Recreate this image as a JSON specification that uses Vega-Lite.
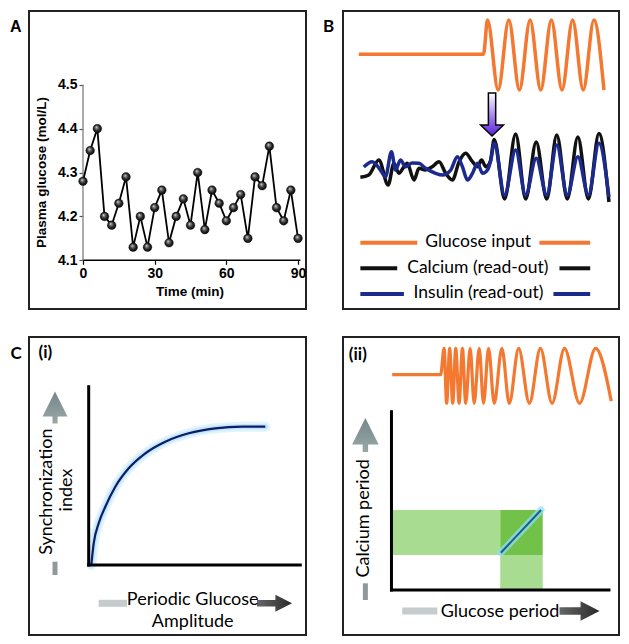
{
"$schema": "https://vega.github.io/schema/vega-lite/v6.json",
"padding": {"left": 8, "top": 10, "right": 0, "bottom": 0},
"background": "white",
"config": {"view": {"stroke": "#222", "strokeWidth": 2}},
"bounds": "flush",
"columns": 2,
"spacing": {"row": 28, "column": 37},
"resolve": {"scale": {"x": "independent", "y": "independent", "color": "independent"}},
"datasets": {
"glucose": [{"t":0,"g":4.28},{"t":3,"g":4.35},{"t":6,"g":4.40},{"t":9,"g":4.20},{"t":12,"g":4.18},{"t":15,"g":4.23},{"t":18,"g":4.29},{"t":21,"g":4.13},{"t":24,"g":4.20},{"t":27,"g":4.13},{"t":30,"g":4.22},{"t":33,"g":4.26},{"t":36,"g":4.14},{"t":39,"g":4.20},{"t":42,"g":4.24},{"t":45,"g":4.18},{"t":48,"g":4.30},{"t":51,"g":4.17},{"t":54,"g":4.26},{"t":57,"g":4.23},{"t":60,"g":4.19},{"t":63,"g":4.22},{"t":66,"g":4.25},{"t":69,"g":4.15},{"t":72,"g":4.29},{"t":75,"g":4.27},{"t":78,"g":4.36},{"t":81,"g":4.22},{"t":84,"g":4.19},{"t":87,"g":4.26},{"t":90,"g":4.15}],
"a_xaxis": [{"t":0,"t2":91,"g":4.1}],
"a_yaxis": [{"t":0,"g":4.1,"g2":4.5}],
"a_label": [{"t":-28.17,"g":4.632,"label":"A"}],
"a_ytitle": [{"t":-17.16,"g":4.3,"label":"Plasma glucose (mol/L)"}],
"b_glucose": [{"x":5.71,"y":85.47},{"x":50.91,"y":85.47},{"x":52.36,"y":96.98},{"x":56.22,"y":73.49},{"x":60.07,"y":96.98},{"x":63.93,"y":73.49},{"x":67.78,"y":96.98},{"x":71.64,"y":73.49},{"x":75.49,"y":96.98},{"x":79.35,"y":73.49},{"x":83.2,"y":96.98},{"x":87.05,"y":73.49},{"x":90.91,"y":96.98},{"x":94.55,"y":73.49}],
"b_calcium": [{"x":6.29,"y":44.19},{"x":9.35,"y":44.97},{"x":12.98,"y":50.0},{"x":16.36,"y":41.61},{"x":18.44,"y":48.89},{"x":20.25,"y":45.54},{"x":21.82,"y":47.32},{"x":23.27,"y":48.89},{"x":25.71,"y":43.29},{"x":27.53,"y":47.21},{"x":29.82,"y":46.64},{"x":32.36,"y":47.75},{"x":34.8,"y":49.43},{"x":37.2,"y":45.54},{"x":39.64,"y":43.29},{"x":42.07,"y":49.43},{"x":44.47,"y":52.25},{"x":46.91,"y":49.43},{"x":48.73,"y":47.75},{"x":50.18,"y":50.0},{"x":51.75,"y":47.75},{"x":53.35,"y":49.43},{"x":54.8,"y":56.88},{"x":58.55,"y":36.91},{"x":62.55,"y":58.72},{"x":66.18,"y":36.91},{"x":70.0,"y":56.04},{"x":73.82,"y":36.91},{"x":77.45,"y":58.39},{"x":81.27,"y":36.91},{"x":85.09,"y":57.72},{"x":88.91,"y":36.91},{"x":92.73,"y":58.89},{"x":96.36,"y":35.91}],
"b_insulin": [{"x":7.53,"y":47.65},{"x":10.55,"y":49.43},{"x":13.56,"y":46.64},{"x":15.38,"y":44.4},{"x":17.56,"y":52.79},{"x":19.02,"y":46.64},{"x":20.84,"y":50.0},{"x":22.65,"y":47.75},{"x":25.09,"y":48.99},{"x":27.53,"y":48.89},{"x":29.93,"y":47.21},{"x":33.56,"y":45.54},{"x":36.0,"y":44.97},{"x":39.02,"y":46.64},{"x":41.45,"y":51.11},{"x":43.27,"y":47.75},{"x":45.09,"y":43.29},{"x":46.91,"y":45.54},{"x":48.73,"y":48.89},{"x":50.55,"y":45.54},{"x":52.36,"y":46.64},{"x":53.56,"y":50.0},{"x":54.8,"y":55.6},{"x":58.55,"y":38.26},{"x":62.55,"y":53.36},{"x":66.18,"y":38.26},{"x":70.0,"y":50.57},{"x":73.82,"y":38.26},{"x":77.45,"y":55.03},{"x":81.27,"y":38.26},{"x":85.09,"y":51.11},{"x":88.91,"y":38.26},{"x":92.73,"y":55.6},{"x":96.36,"y":37.58}],
"b_arrow": [{"x":54.0,"y":65.27}],
"b_legend": [{"x":6.29,"x2":26.91,"y":22.25,"s":"Glucose input"},{"x":71.16,"x2":89.56,"y":22.25,"s":"Glucose input"},{"x":6.29,"x2":19.64,"y":13.66,"s":"Calcium (read-out)"},{"x":78.44,"x2":89.56,"y":13.66,"s":"Calcium (read-out)"},{"x":6.29,"x2":22.07,"y":5.03,"s":"Insulin (read-out)"},{"x":76.25,"x2":89.56,"y":5.03,"s":"Insulin (read-out)"}],
"b_legend_text": [{"x":48.98,"y":22.58,"label":"Glucose input"},{"x":48.84,"y":13.9,"label":"Calcium (read-out)"},{"x":49.09,"y":5.3,"label":"Insulin (read-out)"}],
"b_label": [{"x":-5.2,"y":94.5,"label":"B"}],
"c1_vaxis": [{"x":21.55,"y":23.49,"y2":83.32}],
"c1_haxis": [{"x":21.55,"x2":97.94,"y":23.49}],
"c1_curve": [{"x":22.49,"y":23.49},{"x":23.36,"y":30.77},{"x":25.16,"y":37.48},{"x":27.55,"y":43.05},{"x":31.16,"y":49.77},{"x":35.99,"y":55.94},{"x":41.99,"y":60.97},{"x":49.21,"y":64.87},{"x":57.65,"y":67.69},{"x":67.26,"y":69.36},{"x":76.9,"y":69.9},{"x":85.31,"y":69.9}],
"c1_bold": [{"x":5.88,"y":94.53,"label":"(i)"},{"x":-4.69,"y":94.4,"label":"C"}],
"c1_vtext": [{"x":6.5,"y":48.09,"label":"Synchronization"},{"x":13.72,"y":48.66,"label":"index"}],
"c1_htext": [{"x":59.1,"y":11.74,"label":"Periodic Glucose"},{"x":59.1,"y":4.46,"label":"Amplitude"}],
"c1_uparrow": [{"x":9.39,"y":76.34}],
"c1_rarrow": [{"x":88.63,"y":10.64}],
"c1_smallbar": [{"x":9.39,"y":20.13,"y2":24.6}],
"c1_lightbar": [{"x":25.16,"x2":35.38,"y":10.64}],
"c2_glucose": [{"x":17.82,"y":87.35},{"x":35.38,"y":87.35},{"x":36.62,"y":96.21},{"x":37.56,"y":77.75},{"x":38.65,"y":96.21},{"x":39.75,"y":77.75},{"x":40.84,"y":96.21},{"x":42.07,"y":77.75},{"x":43.27,"y":96.21},{"x":44.47,"y":77.75},{"x":46.07,"y":96.21},{"x":47.53,"y":77.75},{"x":49.35,"y":96.21},{"x":50.91,"y":77.75},{"x":52.73,"y":96.21},{"x":54.8,"y":77.75},{"x":57.56,"y":96.21},{"x":60.25,"y":77.75},{"x":63.64,"y":96.21},{"x":67.53,"y":77.75},{"x":71.53,"y":96.21},{"x":75.75,"y":77.75},{"x":80.25,"y":96.21},{"x":85.71,"y":77.75},{"x":91.53,"y":96.21},{"x":97.2,"y":78.5}],
"c2_rects": [{"x":17.56,"x2":56.98,"y":26.85,"y2":41.95,"shade":"light"},{"x":56.98,"x2":72.36,"y":26.85,"y2":41.95,"shade":"dark"},{"x":56.98,"x2":72.36,"y":15.1,"y2":26.85,"shade":"light"}],
"c2_vaxis": [{"x":17.56,"y":15.1,"y2":74.93}],
"c2_haxis": [{"x":17.56,"x2":96.36,"y":15.1}],
"c2_diag": [{"x":57.2,"y":27.62},{"x":71.75,"y":41.95}],
"c2_bold": [{"x":5.38,"y":93.96,"label":"(ii)"}],
"c2_vtext": [{"x":7.53,"y":39.16,"label":"Calcium period"}],
"c2_htext": [{"x":56.91,"y":7.82,"label":"Glucose period"}],
"c2_uparrow": [{"x":8.11,"y":67.11}],
"c2_rarrow": [{"x":85.71,"y":8.05}],
"c2_smallbar": [{"x":8.11,"y":11.74,"y2":17.35}],
"c2_lightbar": [{"x":21.45,"x2":34.18,"y":8.05}]
},
"concat": [
{
"width": 277, "height": 298,
"encoding": {
"x": {"field": "t", "type": "quantitative", "scale": {"domain": [-22.6, 93.34], "nice": false, "zero": false},
 "axis": {"values": [0, 30, 60, 90], "domain": false, "grid": false, "offset": -48.7, "tickSize": 4, "tickWidth": 1.2, "tickColor": "#000", "labelFont": "Liberation Sans", "labelFontSize": 14, "labelFontWeight": "bold", "labelColor": "#000", "labelPadding": 2, "labelFlush": false, "title": "Time (min)", "titleFont": "Liberation Sans", "titleFontSize": 13.5, "titleFontWeight": "bold", "titleColor": "#000", "titlePadding": 4, "titleX": 160.5}},
"y": {"field": "g", "type": "quantitative", "scale": {"domain": [3.9891, 4.6679], "nice": false, "zero": false},
 "axis": {"values": [4.1, 4.2, 4.3, 4.4, 4.5], "format": ".1f", "domain": false, "grid": false, "offset": -54, "tickSize": 4, "tickWidth": 1.2, "tickColor": "#555", "labelFont": "Liberation Sans", "labelFontSize": 14, "labelFontWeight": "bold", "labelColor": "#000", "labelPadding": 2, "labelFlush": false, "title": null}}
},
"layer": [
{"data": {"name": "a_xaxis"}, "mark": {"type": "rule", "color": "#000", "strokeWidth": 1.6}, "encoding": {"x2": {"field": "t2"}}},
{"data": {"name": "a_yaxis"}, "mark": {"type": "rule", "color": "#888", "strokeWidth": 1.4}, "encoding": {"y2": {"field": "g2"}}},
{"data": {"name": "glucose"}, "mark": {"type": "line", "color": "#000", "strokeWidth": 1.8}},
{"data": {"name": "glucose"}, "mark": {"type": "circle", "size": 75, "opacity": 1, "fill": {"gradient": "radial", "x1": 0.38, "y1": 0.32, "r1": 0, "x2": 0.5, "y2": 0.5, "r2": 0.55, "stops": [{"offset": 0, "color": "#ffffff"}, {"offset": 0.2, "color": "#8c8c8c"}, {"offset": 0.6, "color": "#2a2a2a"}, {"offset": 1, "color": "#000000"}]}, "stroke": "#000", "strokeWidth": 0.4}},
{"data": {"name": "a_ytitle"}, "mark": {"type": "text", "font": "Liberation Sans", "fontWeight": "bold", "fontSize": 13.5, "color": "#000", "angle": 270}, "encoding": {"text": {"field": "label"}}},
{"data": {"name": "a_label"}, "mark": {"type": "text", "font": "Liberation Sans", "fontWeight": "bold", "fontSize": 16, "color": "#000"}, "encoding": {"text": {"field": "label"}}}
]
},
{
"width": 276, "height": 298,
"encoding": {
"x": {"field": "x", "type": "quantitative", "scale": {"domain": [0, 100], "nice": false, "zero": false}, "axis": null},
"y": {"field": "y", "type": "quantitative", "scale": {"domain": [0, 100], "nice": false, "zero": false}, "axis": null}
},
"layer": [
{"data": {"name": "b_glucose"}, "mark": {"type": "line", "color": "#f4782f", "strokeWidth": 3.5, "interpolate": "monotone"}},
{"data": {"name": "b_calcium"}, "mark": {"type": "line", "color": "#111111", "strokeWidth": 3.5, "interpolate": "monotone"}},
{"data": {"name": "b_insulin"}, "mark": {"type": "line", "color": "#1b2a8c", "strokeWidth": 3.5, "interpolate": "monotone"}},
{"data": {"name": "b_arrow"}, "mark": {"type": "point", "shape": "M-0.17,-1L0.17,-1L0.17,0.49L0.53,0.49L0,1L-0.53,0.49L-0.17,0.49Z", "size": 1849, "filled": true, "opacity": 1, "fill": {"gradient": "linear", "x1": 0, "y1": 0, "x2": 0, "y2": 1, "stops": [{"offset": 0, "color": "#ffffff"}, {"offset": 0.55, "color": "#a47ff0"}, {"offset": 1, "color": "#5a1fd8"}]}, "stroke": "#000", "strokeWidth": 1.5}},
{"data": {"name": "b_legend"}, "mark": {"type": "rule", "strokeWidth": 4}, "encoding": {"x2": {"field": "x2"}, "color": {"field": "s", "type": "nominal", "scale": {"domain": ["Glucose input", "Calcium (read-out)", "Insulin (read-out)"], "range": ["#f4782f", "#111111", "#1b2a8c"]}, "legend": null}}},
{"data": {"name": "b_legend_text"}, "mark": {"type": "text", "font": "Lato", "fontSize": 17.5, "color": "#000"}, "encoding": {"text": {"field": "label"}}},
{"data": {"name": "b_label"}, "mark": {"type": "text", "font": "Lato", "fontWeight": "bold", "fontSize": 17, "color": "#000"}, "encoding": {"text": {"field": "label"}}}
]
},
{
"width": 277, "height": 298,
"encoding": {
"x": {"field": "x", "type": "quantitative", "scale": {"domain": [0, 100], "nice": false, "zero": false}, "axis": null},
"y": {"field": "y", "type": "quantitative", "scale": {"domain": [0, 100], "nice": false, "zero": false}, "axis": null}
},
"layer": [
{"data": {"name": "c1_curve"}, "mark": {"type": "line", "color": "#a9ddf6", "strokeWidth": 10, "opacity": 0.35, "strokeCap": "round", "interpolate": "monotone"}},
{"data": {"name": "c1_curve"}, "mark": {"type": "line", "color": "#a9ddf6", "strokeWidth": 5.5, "opacity": 0.55, "strokeCap": "round", "interpolate": "monotone"}},
{"data": {"name": "c1_curve"}, "mark": {"type": "line", "color": "#0c1c6b", "strokeWidth": 2.2, "interpolate": "monotone"}},
{"data": {"name": "c1_vaxis"}, "mark": {"type": "rule", "color": "#000", "strokeWidth": 3, "strokeCap": "square"}, "encoding": {"y2": {"field": "y2"}}},
{"data": {"name": "c1_haxis"}, "mark": {"type": "rule", "color": "#000", "strokeWidth": 3, "strokeCap": "square"}, "encoding": {"x2": {"field": "x2"}}},
{"data": {"name": "c1_uparrow"}, "mark": {"type": "point", "shape": "M0,-1L0.78,0.56L0.16,0.56L0.16,1L-0.16,1L-0.16,0.56L-0.78,0.56Z", "size": 1024, "filled": true, "opacity": 1, "fill": {"gradient": "linear", "x1": 0, "y1": 0, "x2": 0, "y2": 1, "stops": [{"offset": 0, "color": "#74878a"}, {"offset": 1, "color": "#9aa7a7"}]}, "strokeWidth": 0}},
{"data": {"name": "c1_rarrow"}, "mark": {"type": "point", "shape": "M1,0L0.05,-0.49L0.05,-0.19L-1,-0.19L-1,0.19L0.05,0.19L0.05,0.49Z", "size": 1225, "filled": true, "opacity": 1, "fill": {"gradient": "linear", "x1": 0, "y1": 0, "x2": 1, "y2": 0, "stops": [{"offset": 0, "color": "#666666"}, {"offset": 1, "color": "#2a2a2a"}]}, "strokeWidth": 0}},
{"data": {"name": "c1_smallbar"}, "mark": {"type": "rule", "color": "#8f9999", "strokeWidth": 5}, "encoding": {"y2": {"field": "y2"}}},
{"data": {"name": "c1_lightbar"}, "mark": {"type": "rule", "color": "#c4cccc", "strokeWidth": 7}, "encoding": {"x2": {"field": "x2"}}},
{"data": {"name": "c1_vtext"}, "mark": {"type": "text", "font": "Lato", "fontSize": 18, "color": "#000", "angle": 270}, "encoding": {"text": {"field": "label"}}},
{"data": {"name": "c1_htext"}, "mark": {"type": "text", "font": "Lato", "fontSize": 18, "color": "#000"}, "encoding": {"text": {"field": "label"}}},
{"data": {"name": "c1_bold"}, "mark": {"type": "text", "font": "Lato", "fontWeight": "bold", "fontSize": 17, "color": "#000"}, "encoding": {"text": {"field": "label"}}}
]
},
{
"width": 276, "height": 298,
"encoding": {
"x": {"field": "x", "type": "quantitative", "scale": {"domain": [0, 100], "nice": false, "zero": false}, "axis": null},
"y": {"field": "y", "type": "quantitative", "scale": {"domain": [0, 100], "nice": false, "zero": false}, "axis": null}
},
"layer": [
{"data": {"name": "c2_glucose"}, "mark": {"type": "line", "color": "#f4782f", "strokeWidth": 3.2, "interpolate": "monotone"}},
{"data": {"name": "c2_rects"}, "mark": {"type": "rect", "opacity": 1}, "encoding": {"x2": {"field": "x2"}, "y2": {"field": "y2"}, "color": {"field": "shade", "type": "nominal", "scale": {"domain": ["light", "dark"], "range": ["#a8dc90", "#72c24a"]}, "legend": null}}},
{"data": {"name": "c2_diag"}, "mark": {"type": "line", "color": "#8ee0ff", "strokeWidth": 7, "opacity": 0.7, "strokeCap": "round"}},
{"data": {"name": "c2_diag"}, "mark": {"type": "line", "color": "#1d5c8e", "strokeWidth": 2}},
{"data": {"name": "c2_vaxis"}, "mark": {"type": "rule", "color": "#000", "strokeWidth": 3, "strokeCap": "square"}, "encoding": {"y2": {"field": "y2"}}},
{"data": {"name": "c2_haxis"}, "mark": {"type": "rule", "color": "#000", "strokeWidth": 3, "strokeCap": "square"}, "encoding": {"x2": {"field": "x2"}}},
{"data": {"name": "c2_uparrow"}, "mark": {"type": "point", "shape": "M0,-1L0.78,0.56L0.16,0.56L0.16,1L-0.16,1L-0.16,0.56L-0.78,0.56Z", "size": 1156, "filled": true, "opacity": 1, "fill": {"gradient": "linear", "x1": 0, "y1": 0, "x2": 0, "y2": 1, "stops": [{"offset": 0, "color": "#74878a"}, {"offset": 1, "color": "#9aa7a7"}]}, "strokeWidth": 0}},
{"data": {"name": "c2_rarrow"}, "mark": {"type": "point", "shape": "M1,0L0.05,-0.49L0.05,-0.19L-1,-0.19L-1,0.19L0.05,0.19L0.05,0.49Z", "size": 1600, "filled": true, "opacity": 1, "fill": {"gradient": "linear", "x1": 0, "y1": 0, "x2": 1, "y2": 0, "stops": [{"offset": 0, "color": "#666666"}, {"offset": 1, "color": "#2a2a2a"}]}, "strokeWidth": 0}},
{"data": {"name": "c2_smallbar"}, "mark": {"type": "rule", "color": "#8f9999", "strokeWidth": 5}, "encoding": {"y2": {"field": "y2"}}},
{"data": {"name": "c2_lightbar"}, "mark": {"type": "rule", "color": "#c4cccc", "strokeWidth": 7}, "encoding": {"x2": {"field": "x2"}}},
{"data": {"name": "c2_vtext"}, "mark": {"type": "text", "font": "Lato", "fontSize": 18, "color": "#000", "angle": 270}, "encoding": {"text": {"field": "label"}}},
{"data": {"name": "c2_htext"}, "mark": {"type": "text", "font": "Lato", "fontSize": 18, "color": "#000"}, "encoding": {"text": {"field": "label"}}},
{"data": {"name": "c2_bold"}, "mark": {"type": "text", "font": "Lato", "fontWeight": "bold", "fontSize": 17, "color": "#000"}, "encoding": {"text": {"field": "label"}}}
]
}
]
}
